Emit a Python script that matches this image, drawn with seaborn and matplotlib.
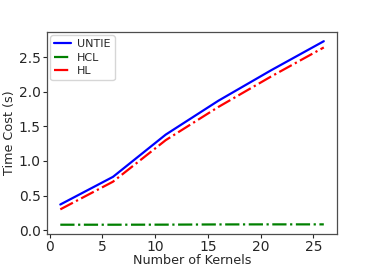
import pandas as pd
import matplotlib
matplotlib.use("Agg")
import matplotlib.pyplot as plt
import seaborn as sns

kernels = [1, 6, 11, 16, 21, 26]
untie = [0.37, 0.77, 1.38, 1.87, 2.31, 2.73]
hcl = [0.078, 0.078, 0.079, 0.082, 0.083, 0.083]
hl = [0.30, 0.70, 1.30, 1.78, 2.22, 2.64]

series = ["UNTIE", "HCL", "HL"]
colors = ["blue", "green", "red"]
styles = ["-", "-.", "-."]


def build_frame():
    rows = []
    for name, vals in zip(series, [untie, hcl, hl]):
        for k, v in zip(kernels, vals):
            rows.append({"kernels": k, "cost": v, "method": name})
    return pd.DataFrame(rows)


def plot(df):
    sns.set_style("ticks")
    plt.rcParams["font.family"] = ["DejaVu Sans"]
    fig = plt.figure(figsize=(3.74, 2.67), dpi=100)
    ax = fig.add_axes([0.126, 0.124, 0.775, 0.756])
    for name, c, ls in zip(series, colors, styles):
        sub = df[df["method"] == name]
        sns.lineplot(data=sub, x="kernels", y="cost", color=c, linestyle=ls,
                     linewidth=1.6, label=name, ax=ax)
    ax.set_xlabel("Number of Kernels", fontsize=9.2, labelpad=0)
    ax.set_ylabel("Time Cost (s)", fontsize=9.2, labelpad=2)
    ax.set_xticks([0, 5, 10, 15, 20, 25])
    ax.set_yticks([0.0, 0.5, 1.0, 1.5, 2.0, 2.5])
    ax.tick_params(labelsize=10, length=3, pad=1.5)
    for s in ax.spines.values():
        s.set_color("0.3")
        s.set_linewidth(0.9)
    ax.legend(loc="upper left", fontsize=8, handlelength=1.5, borderpad=0.35,
              labelspacing=0.3, handletextpad=0.55, borderaxespad=0.3)
    fig.savefig("out.png", dpi=100)
    plt.close(fig)


if __name__ == "__main__":
    plot(build_frame())
